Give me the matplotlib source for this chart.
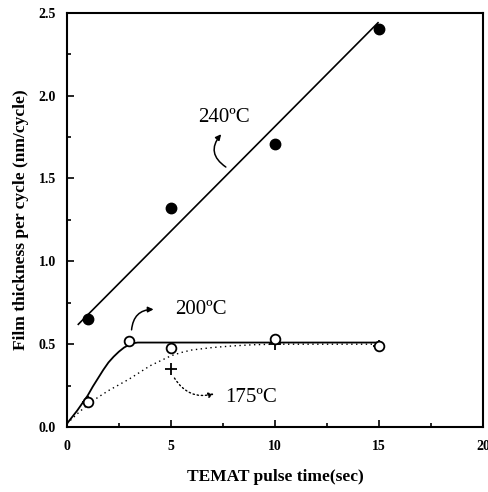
import matplotlib
matplotlib.use("Agg")
import matplotlib.pyplot as plt
from matplotlib.ticker import MultipleLocator

# data
x240 = [1, 5, 10, 15]
y240 = [0.65, 1.32, 1.71, 2.40]
fit240_x = [0.55, 14.95]
fit240_y = [0.62, 2.44]

x200 = [1, 3, 5, 10, 15]
y200 = [0.15, 0.52, 0.48, 0.53, 0.49]
fit200_x = [0, 0.25, 0.5, 0.75, 1, 1.25, 1.5, 1.75, 2, 2.25, 2.5, 2.75, 3, 3.2, 3.4, 15]
fit200_y = [0.02, 0.06, 0.10, 0.145, 0.19, 0.245, 0.295, 0.345, 0.39, 0.425, 0.455, 0.48, 0.497, 0.506, 0.51, 0.51]

x175 = [1, 5, 10, 15]
y175 = [0.15, 0.35, 0.50, 0.49]
fit175_x = [0, 0.5, 1, 1.5, 2, 2.5, 3, 3.5, 4, 4.5, 5, 5.5, 6, 7, 8, 9, 10, 15]
fit175_y = [0.02, 0.08, 0.135, 0.18, 0.22, 0.255, 0.29, 0.33, 0.37, 0.40, 0.43, 0.45, 0.465, 0.48, 0.49, 0.497, 0.50, 0.50]

xticks = [0, 5, 10, 15, 20]
yticks = [0.0, 0.5, 1.0, 1.5, 2.0, 2.5]

plt.rcParams['font.family'] = ['Liberation Serif', 'DejaVu Serif']

fig = plt.figure(figsize=(4.88, 4.92), dpi=100)
ax = fig.add_axes([0.137, 0.132, 0.853, 0.842])

ax.plot(fit240_x, fit240_y, color='black', lw=1.2)
ax.plot(fit200_x, fit200_y, color='black', lw=1.3)
ax.plot(fit175_x, fit175_y, color='black', lw=1.0, ls=(0, (1, 2.5)))

ax.plot(x240, y240, 'o', color='black', ms=7.5)
ax.plot(x175, y175, '+', color='black', ms=8, mew=1.3)
ax.plot(x200, y200, 'o', mfc='white', mec='black', ms=7, mew=1.3)

ax.set_xlim(0, 20)
ax.set_ylim(0, 2.5)
ax.set_xticks(xticks)
ax.set_yticks(yticks)
ax.set_xticklabels([str(t) for t in xticks], fontsize=10, fontweight='bold')
ax.set_yticklabels([f"{t:.1f}" for t in yticks], fontsize=10, fontweight='bold')
ax.xaxis.set_minor_locator(MultipleLocator(2.5))
ax.yaxis.set_minor_locator(MultipleLocator(0.25))
ax.tick_params(which='both', direction='in', width=1.2)
ax.tick_params(which='major', length=5)
ax.tick_params(which='minor', length=3)
ax.tick_params(axis='x', pad=9)
ax.tick_params(axis='y', pad=8)
for s in ax.spines.values():
    s.set_linewidth(1.5)

ax.set_xlabel('TEMAT pulse time(sec)', fontsize=12.5, fontweight='bold', labelpad=12)
ax.set_ylabel('Film thickness per cycle (nm/cycle)', fontsize=12.5, fontweight='bold', labelpad=7)

ax.text(6.3, 1.87, '240ºC', fontsize=15, va='center', ha='left')
ax.text(5.2, 0.71, '200ºC', fontsize=15, va='center', ha='left')
ax.text(7.6, 0.18, '175ºC', fontsize=15, va='center', ha='left')

ax.annotate('', xy=(7.5, 1.78), xytext=(7.75, 1.56),
            arrowprops=dict(arrowstyle='-|>', color='black', lw=1.1,
                            connectionstyle='arc3,rad=-0.6', mutation_scale=8))
ax.annotate('', xy=(4.3, 0.71), xytext=(3.1, 0.57),
            arrowprops=dict(arrowstyle='-|>', color='black', lw=1.1,
                            connectionstyle='arc3,rad=-0.5', mutation_scale=8))
ax.annotate('', xy=(7.2, 0.205), xytext=(5.1, 0.31),
            arrowprops=dict(arrowstyle='-|>', color='black', lw=1.0, ls=(0, (1, 2)),
                            connectionstyle='arc3,rad=0.4', mutation_scale=8))

fig.savefig('out.png', dpi=100)
